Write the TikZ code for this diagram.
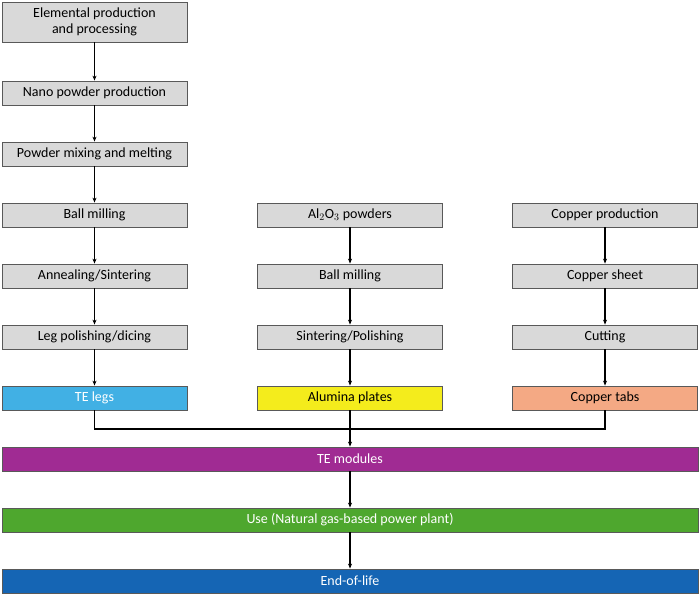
\documentclass[tikz,border=0pt]{standalone}
\usepackage{fontspec}
\setmainfont{Carlito}
\usetikzlibrary{arrows.meta}
\definecolor{legblue}{HTML}{41B0E4}
\definecolor{plateyellow}{HTML}{F4EC1C}
\definecolor{tabsalmon}{HTML}{F4A984}
\definecolor{modpurple}{HTML}{A02B93}
\definecolor{usegreen}{HTML}{4EA72E}
\definecolor{eolblue}{HTML}{1565B4}
\definecolor{stepgray}{HTML}{D9D9D9}
\tikzset{
  stage/.style={draw=gray!70!black, line width=0.8pt, fill=stepgray, minimum width=185pt, minimum height=24pt, inner sep=0pt, align=center, font=\fontsize{14}{16}\selectfont},
  wide/.style={stage, minimum width=696pt, text=white},
  flow/.style={line width=1.3pt, -{Stealth[length=5pt,width=4pt]}}
}
\begin{document}
\begin{tikzpicture}[x=1pt,y=-1pt]
	\useasboundingbox (0,0) rectangle (700,594);
	\node[stage, minimum height=40pt] (elem) at (94.5, 22)  {Elemental production\\and processing};
	\node[stage] (nano)  at (94.5, 93)   {Nano powder production};
	\node[stage] (mix)   at (94.5, 154)  {Powder mixing and melting};
	\node[stage] (ballA) at (94.5, 215)  {Ball milling};
	\node[stage] (anneal) at (94.5, 276) {Annealing/Sintering};
	\node[stage] (leg)   at (94.5, 337)  {Leg polishing/dicing};
	\node[stage, fill=legblue, text=white] (legs) at (94.5, 398) {TE legs};
	\node[stage] (alo)   at (350, 215)   {Al$_2$O$_3$ powders};
	\node[stage] (ballB) at (350, 276)   {Ball milling};
	\node[stage] (sinter) at (350, 337)  {Sintering/Polishing};
	\node[stage, fill=plateyellow] (plates) at (350, 398) {Alumina plates};
	\node[stage] (cu)    at (605, 215)   {Copper production};
	\node[stage] (sheet) at (605, 276)   {Copper sheet};
	\node[stage] (cut)   at (605, 337)   {Cutting};
	\node[stage, fill=tabsalmon] (tabs) at (605, 398) {Copper tabs};
	\node[wide, fill=modpurple] (mod) at (350, 459) {TE modules};
	\node[wide, fill=usegreen]  (use) at (350, 520) {Use (Natural gas-based power plant)};
	\node[wide, fill=eolblue]   (eol) at (350, 581) {End-of-life};
	\coordinate (joinL) at (94.5, 429);
	\coordinate (joinR) at (605, 429);
	\path[flow] (elem) edge (nano);
	\path[flow] (nano) edge (mix);
	\path[flow] (mix) edge (ballA);
	\path[flow] (ballA) edge (anneal);
	\path[flow] (anneal) edge (leg);
	\path[flow] (leg) edge (legs);
	\path[flow] (alo) edge (ballB);
	\path[flow] (ballB) edge (sinter);
	\path[flow] (sinter) edge (plates);
	\path[flow] (cu) edge (sheet);
	\path[flow] (sheet) edge (cut);
	\path[flow] (cut) edge (tabs);
	\draw[line width=1.3pt] (legs) -- (joinL) -- (joinR) -- (tabs);
	\path[flow] (plates) edge (mod);
	\path[flow] (mod) edge (use);
	\path[flow] (use) edge (eol);
\end{tikzpicture}
\end{document}
